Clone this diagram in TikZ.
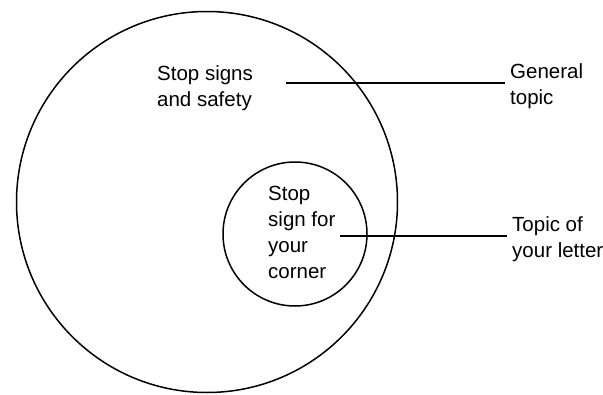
\documentclass[tikz,border=0pt]{standalone}
\usepackage{fontspec}
\setmainfont{Liberation Sans}
\usetikzlibrary{positioning, calc}
\tikzstyle{ring} = [circle, draw, line width=1.5pt, inner sep=0pt]
\tikzstyle{notetext} = [align=left, anchor=base west, inner sep=0pt, font=\fontsize{20.5}{26}\selectfont]
\tikzstyle{pointer} = [line width=2pt, shorten >=5pt]

\begin{document}
\begin{tikzpicture}[x=1pt, y=-1pt]
    \useasboundingbox (0,0) rectangle (603,394);
    \node[ring, minimum size=381pt] (general) at (207,202) {};
    \node[ring, minimum size=144pt] (letter) at (295,234) {};

    % anchored at the baseline of the last line
    \node[notetext] (generaltext) at (157,106) {Stop signs\\and safety};
    \node[notetext] (lettertext) at (268,278) {Stop\\sign for\\your\\corner};
    \node[notetext] (gentopic) at (510,104) {General\\topic};
    \node[notetext] (lettopic) at (512,257) {Topic of\\your letter};

    \coordinate (gstart) at (286,83);
    \coordinate (lstart) at (340,236);
    \draw[pointer] (gstart) -- (gstart -| gentopic.west);
    \draw[pointer] (lstart) -- (lstart -| lettopic.west);
\end{tikzpicture}
\end{document}
